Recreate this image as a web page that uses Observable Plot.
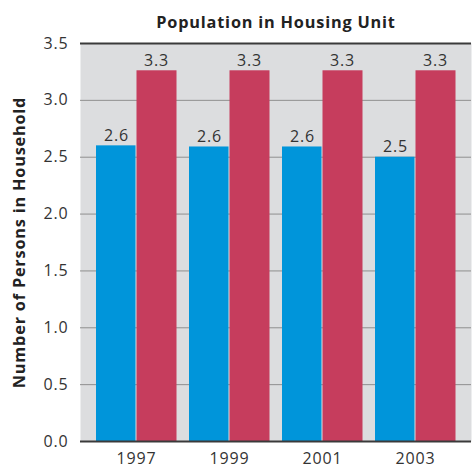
<!DOCTYPE html>
<html>
<head>
<meta charset="utf-8">
<script src="https://cdn.jsdelivr.net/npm/d3@7"></script>
<script src="https://cdn.jsdelivr.net/npm/@observablehq/plot@0.6"></script>
<style>
  body { margin: 0; background: #fff; }
  svg text { letter-spacing: 0.8px; }
</style>
</head>
<body>
<div id="chart"></div>
<script>
const years = ["1997", "1999", "2001", "2003"];
const seriesA = [2.6, 2.59, 2.59, 2.5];   // blue
const seriesB = [3.26, 3.26, 3.26, 3.26]; // red
const labelsA = ["2.6", "2.6", "2.6", "2.5"];
const labelsB = ["3.3", "3.3", "3.3", "3.3"];
const yTicks = [0, 0.5, 1, 1.5, 2, 2.5, 3, 3.5];
const title = "Population in Housing Unit";
const yLabel = "Number of Persons in Household";

const blue = "#0095da";
const red = "#c63d5d";
const font = "'Open Sans', 'Liberation Sans', Arial, sans-serif";

const dataA = years.map((y, i) => ({year: y, value: seriesA[i], label: labelsA[i]}));
const dataB = years.map((y, i) => ({year: y, value: seriesB[i], label: labelsB[i]}));

const chart = Plot.plot({
  width: 475,
  height: 471,
  marginLeft: 80,
  marginRight: 4,
  marginTop: 43,
  marginBottom: 30,
  style: {fontFamily: font, color: "#333", background: "#fff"},
  x: {domain: years, paddingInner: 0.14, paddingOuter: 0.17, label: null},
  y: {domain: [0, 3.5], label: null},
  marks: [
    Plot.frame({fill: "#dcdddf", stroke: null}),
    Plot.gridY(yTicks.filter(d => d > 0 && d < 3.5), {stroke: "#8f8f8f", strokeOpacity: 1, strokeWidth: 1}),
    Plot.barY(dataA, {x: "year", y: "value", fill: blue, insetRight: 40.5, insetLeft: 0}),
    Plot.barY(dataB, {x: "year", y: "value", fill: red, insetLeft: 40.5, insetRight: -0.5}),
    Plot.ruleY([0, 3.5], {stroke: "#3a3a3a", strokeWidth: 2}),
    Plot.text(dataA, {x: "year", y: "value", text: "label", dx: -20, dy: -5, lineAnchor: "bottom", fontSize: 16, fill: "#333"}),
    Plot.text(dataB, {x: "year", y: "value", text: "label", dx: 20, dy: -5, lineAnchor: "bottom", fontSize: 16, fill: "#333"}),
    Plot.axisY(yTicks, {tickSize: 0, tickPadding: 12, tickFormat: d => d.toFixed(1), fontSize: 16, label: null, fill: "#333"}),
    Plot.axisX({tickSize: 0, tickPadding: 11, fontSize: 16, label: null, fill: "#333"}),
    Plot.text([yLabel], {frameAnchor: "left", textAnchor: "middle", dx: -61, rotate: -90, fontSize: 16.3, fontWeight: "bold", fill: "#222"}),
    Plot.text([title], {frameAnchor: "top", textAnchor: "middle", dy: -27, fontSize: 16.3, fontWeight: "bold", fill: "#222"})
  ]
});
document.getElementById("chart").appendChild(chart);
</script>
</body>
</html>
